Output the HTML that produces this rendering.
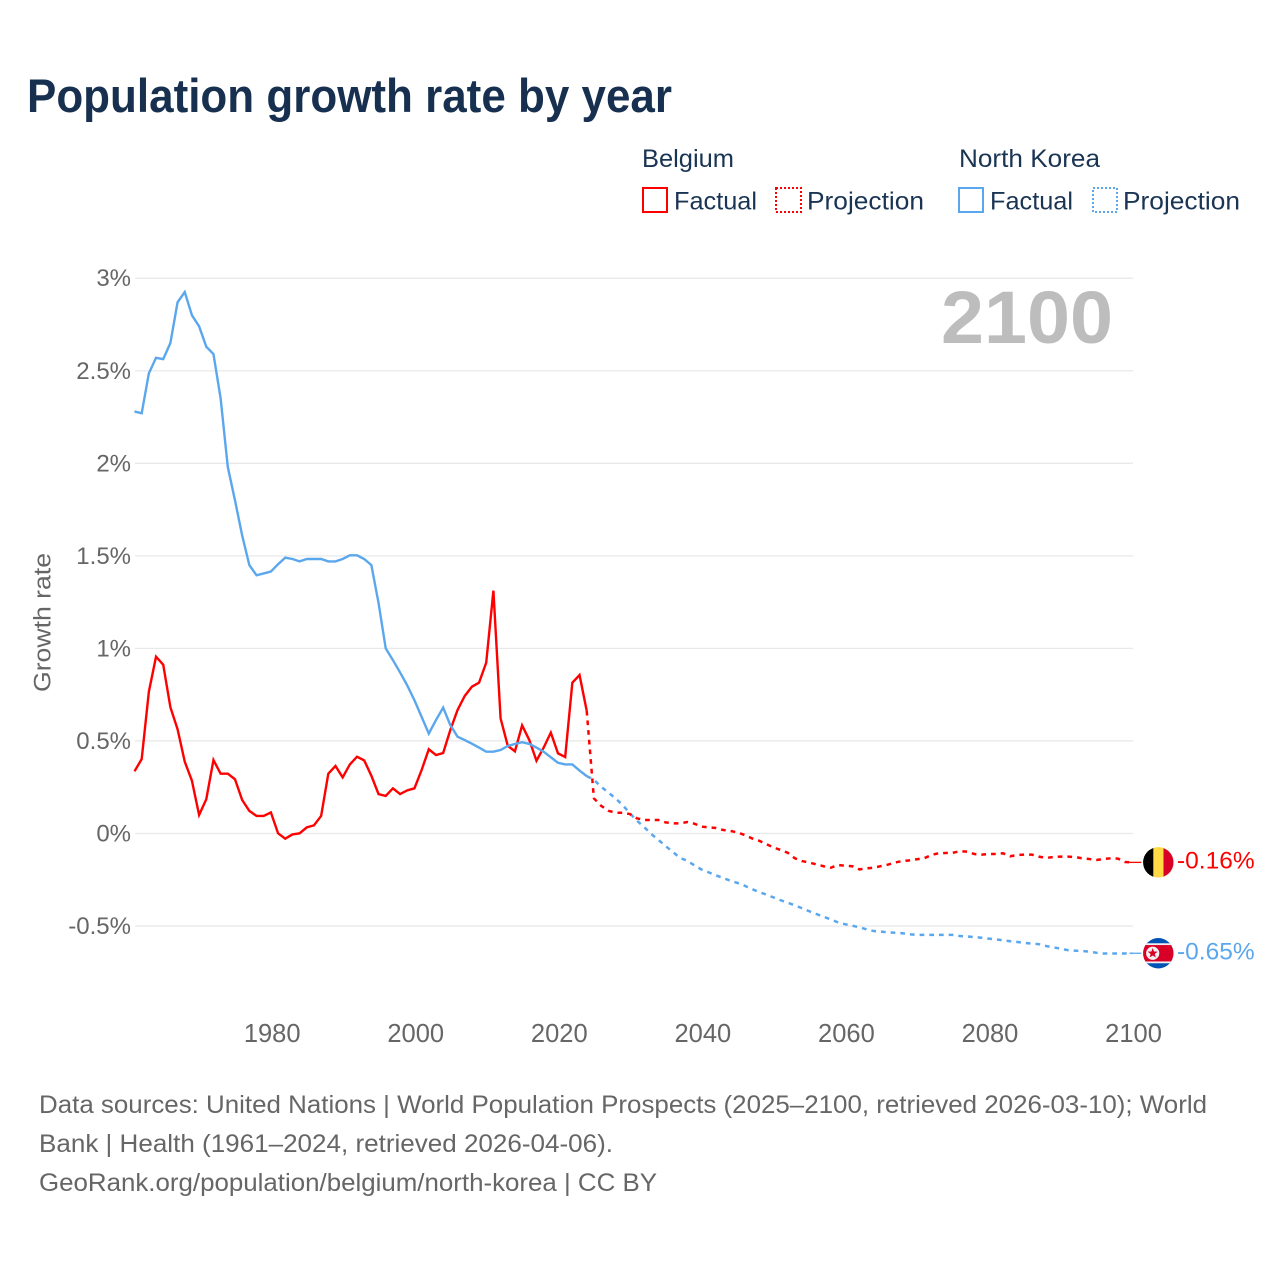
<!DOCTYPE html>
<html lang="en">
<head>
<meta charset="utf-8">
<title>Population growth rate by year</title>
<style>
  html, body { margin: 0; padding: 0; background: #ffffff; }
  svg { display: block; font-family: "Liberation Sans", sans-serif; }
</style>
</head>
<body>
<svg id="chart" xmlns="http://www.w3.org/2000/svg" width="1280" height="1280" viewBox="0 0 1280 1280">
  <rect x="0" y="0" width="1280" height="1280" fill="#ffffff"/>
  <text x="27" y="112" font-size="47" font-weight="700" fill="#17304f" textLength="645" lengthAdjust="spacingAndGlyphs">Population growth rate by year</text>

  <g>
    <text x="642" y="167" font-size="25" fill="#1a3454" textLength="92" lengthAdjust="spacingAndGlyphs">Belgium</text>
    <rect x="643" y="188" width="24" height="24" fill="none" stroke="#ff0000" stroke-width="2"/>
    <text x="674" y="209.5" font-size="25" fill="#1a3454" textLength="83" lengthAdjust="spacingAndGlyphs">Factual</text>
    <rect x="776" y="188" width="25" height="24" fill="none" stroke="#ff0000" stroke-width="2" stroke-dasharray="2 2"/>
    <text x="807" y="209.5" font-size="25" fill="#1a3454" textLength="117" lengthAdjust="spacingAndGlyphs">Projection</text>
    <text x="959" y="167" font-size="25" fill="#1a3454" textLength="141" lengthAdjust="spacingAndGlyphs">North Korea</text>
    <rect x="959" y="188" width="24" height="24" fill="none" stroke="#5ba7ee" stroke-width="2"/>
    <text x="990" y="209.5" font-size="25" fill="#1a3454" textLength="83" lengthAdjust="spacingAndGlyphs">Factual</text>
    <rect x="1093" y="188" width="24" height="24" fill="none" stroke="#5ba7ee" stroke-width="2" stroke-dasharray="2 2"/>
    <text x="1123" y="209.5" font-size="25" fill="#1a3454" textLength="117" lengthAdjust="spacingAndGlyphs">Projection</text>
  </g>

  <g id="grid"></g>
  <g id="y-ticks"></g>
  <g id="x-ticks"></g>
  <text transform="translate(50.5 692) rotate(-90)" x="0" y="0" font-size="24.5" fill="#666666" textLength="139" lengthAdjust="spacingAndGlyphs">Growth rate</text>
  <text x="941" y="343" font-size="74" font-weight="700" fill="#bdbdbd" textLength="172" lengthAdjust="spacingAndGlyphs">2100</text>

  <g id="series"></g>
  <g id="end-markers"></g>

  <g font-size="25" fill="#666666">
    <text x="39" y="1113" textLength="1168" lengthAdjust="spacingAndGlyphs">Data sources: United Nations | World Population Prospects (2025–2100, retrieved 2026-03-10); World</text>
    <text x="39" y="1152" textLength="574" lengthAdjust="spacingAndGlyphs">Bank | Health (1961–2024, retrieved 2026-04-06).</text>
    <text x="39" y="1191" textLength="618" lengthAdjust="spacingAndGlyphs">GeoRank.org/population/belgium/north-korea | CC BY</text>
  </g>
</svg>

<script>
const SVG_NS = "http://www.w3.org/2000/svg";

const factualStartYear = 1961;
const projectionStartYear = 2024;

const belgiumFactual = [
  0.336, 0.402, 0.766, 0.955, 0.912, 0.682, 0.563, 0.388, 0.285, 0.100,
  0.185, 0.397, 0.323, 0.323, 0.293, 0.181, 0.122, 0.095, 0.095, 0.114,
  0.001, -0.028, -0.005, 0.001, 0.033, 0.044, 0.095, 0.323, 0.365, 0.303,
  0.373, 0.415, 0.395, 0.312, 0.213, 0.203, 0.244, 0.213, 0.233, 0.244,
  0.343, 0.455, 0.424, 0.435, 0.559, 0.667, 0.743, 0.793, 0.815, 0.923,
  1.312, 0.622, 0.474, 0.444, 0.584, 0.505, 0.393, 0.464, 0.545, 0.433,
  0.413, 0.815, 0.856, 0.663
];

const belgiumProjection = [
  0.663, 0.190, 0.150, 0.123, 0.112, 0.112, 0.105, 0.082, 0.073, 0.073,
  0.073, 0.060, 0.055, 0.055, 0.062, 0.053, 0.037, 0.033, 0.030, 0.019,
  0.014, 0.006, -0.008, -0.026, -0.039, -0.057, -0.075, -0.089, -0.104, -0.134,
  -0.149, -0.157, -0.167, -0.177, -0.185, -0.170, -0.174, -0.177, -0.194, -0.188,
  -0.185, -0.176, -0.168, -0.156, -0.149, -0.145, -0.139, -0.134, -0.116, -0.107,
  -0.105, -0.104, -0.096, -0.098, -0.111, -0.114, -0.111, -0.111, -0.107, -0.123,
  -0.116, -0.114, -0.114, -0.125, -0.132, -0.127, -0.125, -0.125, -0.127, -0.134,
  -0.138, -0.143, -0.138, -0.134, -0.136, -0.154, -0.156
];

const northKoreaFactual = [
  2.280, 2.270, 2.486, 2.570, 2.563, 2.650, 2.870, 2.925, 2.800, 2.740,
  2.630, 2.590, 2.350, 1.980, 1.800, 1.610, 1.450, 1.395, 1.405, 1.415,
  1.455, 1.490, 1.483, 1.470, 1.483, 1.483, 1.483, 1.470, 1.470, 1.483,
  1.503, 1.503, 1.483, 1.450, 1.245, 1.000, 0.937, 0.870, 0.800, 0.720,
  0.630, 0.540, 0.613, 0.680, 0.586, 0.523, 0.505, 0.485, 0.464, 0.442,
  0.442, 0.451, 0.473, 0.484, 0.493, 0.484, 0.464, 0.442, 0.412, 0.382,
  0.373, 0.373, 0.340, 0.310
];

const northKoreaProjection = [
  0.310, 0.290, 0.253, 0.222, 0.190, 0.154, 0.110, 0.069, 0.035, -0.003,
  -0.035, -0.068, -0.100, -0.132, -0.147, -0.172, -0.195, -0.210, -0.226, -0.240,
  -0.255, -0.267, -0.282, -0.300, -0.316, -0.330, -0.345, -0.360, -0.374, -0.388,
  -0.404, -0.420, -0.435, -0.450, -0.464, -0.480, -0.490, -0.498, -0.507, -0.518,
  -0.527, -0.530, -0.534, -0.536, -0.539, -0.545, -0.547, -0.548, -0.548, -0.548,
  -0.548, -0.548, -0.554, -0.556, -0.560, -0.563, -0.568, -0.572, -0.577, -0.582,
  -0.586, -0.591, -0.595, -0.598, -0.608, -0.615, -0.622, -0.630, -0.633, -0.635,
  -0.638, -0.644, -0.648, -0.648, -0.648, -0.648, -0.647
];

const yTickValues = [3, 2.5, 2, 1.5, 1, 0.5, 0, -0.5];
const yTickLabels = ["3%", "2.5%", "2%", "1.5%", "1%", "0.5%", "0%", "-0.5%"];
const xTickYears = [1980, 2000, 2020, 2040, 2060, 2080, 2100];
const endLabels = ["-0.16%", "-0.65%"];

function xScale(year) { return 134.5 + (year - 1961) * 7.178; }
function yScale(value) { return 833.5 - value * 185.1; }

function makeEl(tag, attrs, parent) {
  const el = document.createElementNS(SVG_NS, tag);
  for (const k in attrs) el.setAttribute(k, attrs[k]);
  parent.appendChild(el);
  return el;
}

function linePoints(values, startYear) {
  return values.map(function (v, i) {
    return xScale(startYear + i).toFixed(2) + "," + yScale(v).toFixed(2);
  }).join(" ");
}

const gridGroup = document.getElementById("grid");
const yTickGroup = document.getElementById("y-ticks");
yTickValues.forEach(function (v, i) {
  const line = makeEl("line", { x1: 135, x2: 1133, y1: yScale(v), y2: yScale(v), stroke: "#e9e9e9", "stroke-width": 1.3 }, gridGroup);
  
  
  const label = makeEl("text", { x: 131, y: yScale(v) + 8, "text-anchor": "end", "font-size": 24, fill: "#666666" }, yTickGroup);
  
  
  label.textContent = yTickLabels[i];
});

const xTickGroup = document.getElementById("x-ticks");
xTickYears.forEach(function (year) {
  const label = makeEl("text", { x: xScale(year) + 1.3, y: 1042, "text-anchor": "middle", "font-size": 25.5, fill: "#666666" }, xTickGroup);
  
  
  label.textContent = String(year);
});

const seriesGroup = document.getElementById("series");
const RED = "#ff0000";
const BLUE = "#5ba7ee";

const nkProjLine = makeEl("polyline", { points: linePoints(northKoreaProjection, projectionStartYear), fill: "none", stroke: BLUE, "stroke-width": 2.5, "stroke-dasharray": "4.7 5" }, seriesGroup);



const beProjLine = makeEl("polyline", { points: linePoints(belgiumProjection, projectionStartYear), fill: "none", stroke: RED, "stroke-width": 2.5, "stroke-dasharray": "4.7 5" }, seriesGroup);



const beFactLine = makeEl("polyline", { points: linePoints(belgiumFactual, factualStartYear), fill: "none", stroke: RED, "stroke-width": 2.4, "stroke-linejoin": "miter" }, seriesGroup);



const nkFactLine = makeEl("polyline", { points: linePoints(northKoreaFactual, factualStartYear), fill: "none", stroke: BLUE, "stroke-width": 2.4, "stroke-linejoin": "miter" }, seriesGroup);



/* End markers: connector, flag and printed last value follow the last data point. */
const markerGroup = document.getElementById("end-markers");
const flagX = 1158.3;
const beEndY = yScale(belgiumProjection[belgiumProjection.length - 1]);
const nkEndY = yScale(northKoreaProjection[northKoreaProjection.length - 1]);

const beConn = makeEl("line", { x1: xScale(2100) - 3, x2: flagX - 17, y1: beEndY, y2: beEndY, stroke: RED, "stroke-width": 1.3 }, markerGroup);


const nkConn = makeEl("line", { x1: xScale(2100) - 3, x2: flagX - 17, y1: nkEndY, y2: nkEndY, stroke: BLUE, "stroke-width": 1.3 }, markerGroup);



const defs = makeEl("defs", {}, markerGroup);
const clip = makeEl("clipPath", { id: "flag-clip" }, defs);
makeEl("circle", { cx: 0, cy: 0, r: 15.2 }, clip);

const beFlag = makeEl("g", { transform: "translate(" + flagX + " " + beEndY + ")", "clip-path": "url(#flag-clip)" }, markerGroup);


makeEl("rect", { x: -16, y: -16, width: 32, height: 32, fill: "#ffda44" }, beFlag);
makeEl("rect", { x: -16, y: -16, width: 11, height: 32, fill: "#000000" }, beFlag);
makeEl("rect", { x: 5.2, y: -16, width: 11, height: 32, fill: "#d80027" }, beFlag);

const nkFlag = makeEl("g", { transform: "translate(" + flagX + " " + nkEndY + ")", "clip-path": "url(#flag-clip)" }, markerGroup);


makeEl("rect", { x: -16, y: -16, width: 32, height: 32, fill: "#0052b4" }, nkFlag);
makeEl("rect", { x: -16, y: -10, width: 32, height: 20, fill: "#f0f0f0" }, nkFlag);
makeEl("rect", { x: -16, y: -8.2, width: 32, height: 16.4, fill: "#d80027" }, nkFlag);
makeEl("circle", { cx: -5.6, cy: 0, r: 6.6, fill: "#f0f0f0" }, nkFlag);
makeEl("polygon", { points: "-5.6,-5.2 -4.3,-1.7 -0.6,-1.6 -3.5,0.7 -2.5,4.2 -5.6,2.2 -8.7,4.2 -7.7,0.7 -10.6,-1.6 -6.9,-1.7", fill: "#d80027" }, nkFlag);

const beLabel = makeEl("text", { x: 1177, y: beEndY + 6.2, "font-size": 24.5, fill: RED }, markerGroup);


beLabel.textContent = endLabels[0];
const nkLabel = makeEl("text", { x: 1177, y: nkEndY + 6.2, "font-size": 24.5, fill: BLUE }, markerGroup);


nkLabel.textContent = endLabels[1];
</script>
</body>
</html>
